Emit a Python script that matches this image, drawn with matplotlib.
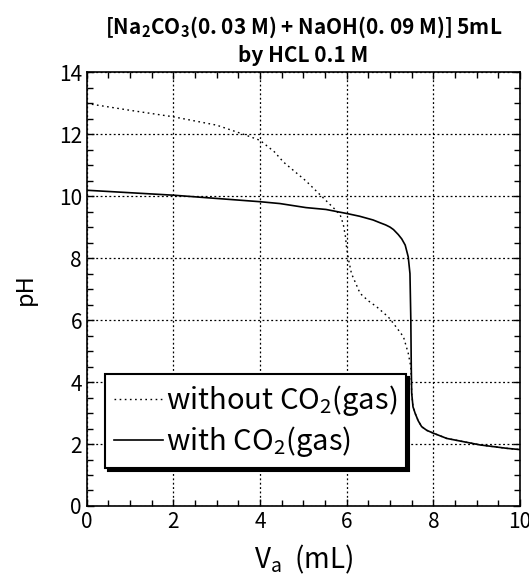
import matplotlib
matplotlib.use("Agg")
import matplotlib.pyplot as plt
from matplotlib.ticker import MultipleLocator

plt.rcParams['font.family'] = ['Noto Sans CJK JP', 'DejaVu Sans']
plt.rcParams['mathtext.default'] = 'regular'

# without CO2 (gas)
v_no = [0, 1, 2, 3, 3.61, 4, 4.33, 4.54, 5.06, 5.41, 5.71, 5.85, 5.92, 5.97, 6.0, 6.05, 6.11,
        6.31, 6.5, 6.69, 6.96, 7.08, 7.31, 7.42, 7.48, 7.5, 7.53, 7.58, 7.65, 7.73, 7.85,
        8.0, 8.31, 9.08, 9.7, 10]
ph_no = [12.99, 12.77, 12.56, 12.29, 12.0, 11.8, 11.43, 11.1, 10.49, 10.01, 9.6, 9.39, 9.1,
         8.7, 8.3, 7.9, 7.5, 6.86, 6.62, 6.43, 6.1, 5.89, 5.46, 4.93, 4.49, 3.64, 3.2, 2.99,
         2.75, 2.56, 2.44, 2.35, 2.18, 1.97, 1.86, 1.82]

# with CO2 (gas)
v_co2 = [0, 2, 4, 4.46, 5.06, 5.52, 6.0, 6.3, 6.61, 6.77, 6.9, 7.0, 7.08, 7.19, 7.27, 7.35,
         7.42, 7.46, 7.48, 7.49, 7.5, 7.53, 7.58, 7.65, 7.73, 7.85, 8.0, 8.31, 9.08, 9.7, 10]
ph_co2 = [10.19, 10.03, 9.82, 9.76, 9.63, 9.57, 9.44, 9.35, 9.23, 9.14, 9.07, 9.0, 8.92, 8.76,
          8.62, 8.42, 8.04, 7.5, 6.0, 4.5, 3.64, 3.2, 2.99, 2.75, 2.56, 2.44, 2.35, 2.18,
          1.97, 1.86, 1.82]

x_ticks = [0, 2, 4, 6, 8, 10]
y_ticks = [0, 2, 4, 6, 8, 10, 12, 14]

fig = plt.figure(figsize=(5.29, 5.78), dpi=100)
ax = fig.add_axes([0.164, 0.1246, 0.819, 0.7505])

ax.plot(v_no, ph_no, color='black', lw=1.0, linestyle=(0, (1.2, 2.5)),
        label='without CO$_2$(gas)')
ax.plot(v_co2, ph_co2, color='black', lw=1.2, label='with CO$_2$(gas)')

ax.set_xlim(0, 10)
ax.set_ylim(0, 14)
ax.set_xticks(x_ticks)
ax.set_yticks(y_ticks)
ax.xaxis.set_minor_locator(MultipleLocator(0.5))
ax.yaxis.set_minor_locator(MultipleLocator(0.5))
ax.tick_params(which='both', direction='in', top=True, right=True, labelsize=15, width=1)
ax.tick_params(which='major', length=5)
ax.tick_params(which='minor', length=4)
ax.grid(True, which='major', color='black', linestyle=(0, (1.5, 2)), lw=0.9)
for s in ax.spines.values():
    s.set_linewidth(1.2)

ax.set_xlabel('V$_a$  (mL)', fontsize=20, labelpad=7)
ax.set_ylabel('pH', fontsize=17, labelpad=16)
ax.set_title('[Na$_2$CO$_3$(0. 03 M) + NaOH(0. 09 M)] 5mL\nby HCL 0.1 M',
             fontsize=15, fontweight='bold', pad=7, linespacing=1.3)

leg = ax.legend(loc='lower left', bbox_to_anchor=(0.042, 0.088), fontsize=21,
                fancybox=False, framealpha=1, edgecolor='black', handlelength=1.7,
                handletextpad=0.1, borderpad=0.3, labelspacing=0.2, borderaxespad=0,
                shadow={'color': 'black', 'alpha': 1})
leg.get_frame().set_linewidth(1.5)

fig.savefig('out.png', dpi=100)
